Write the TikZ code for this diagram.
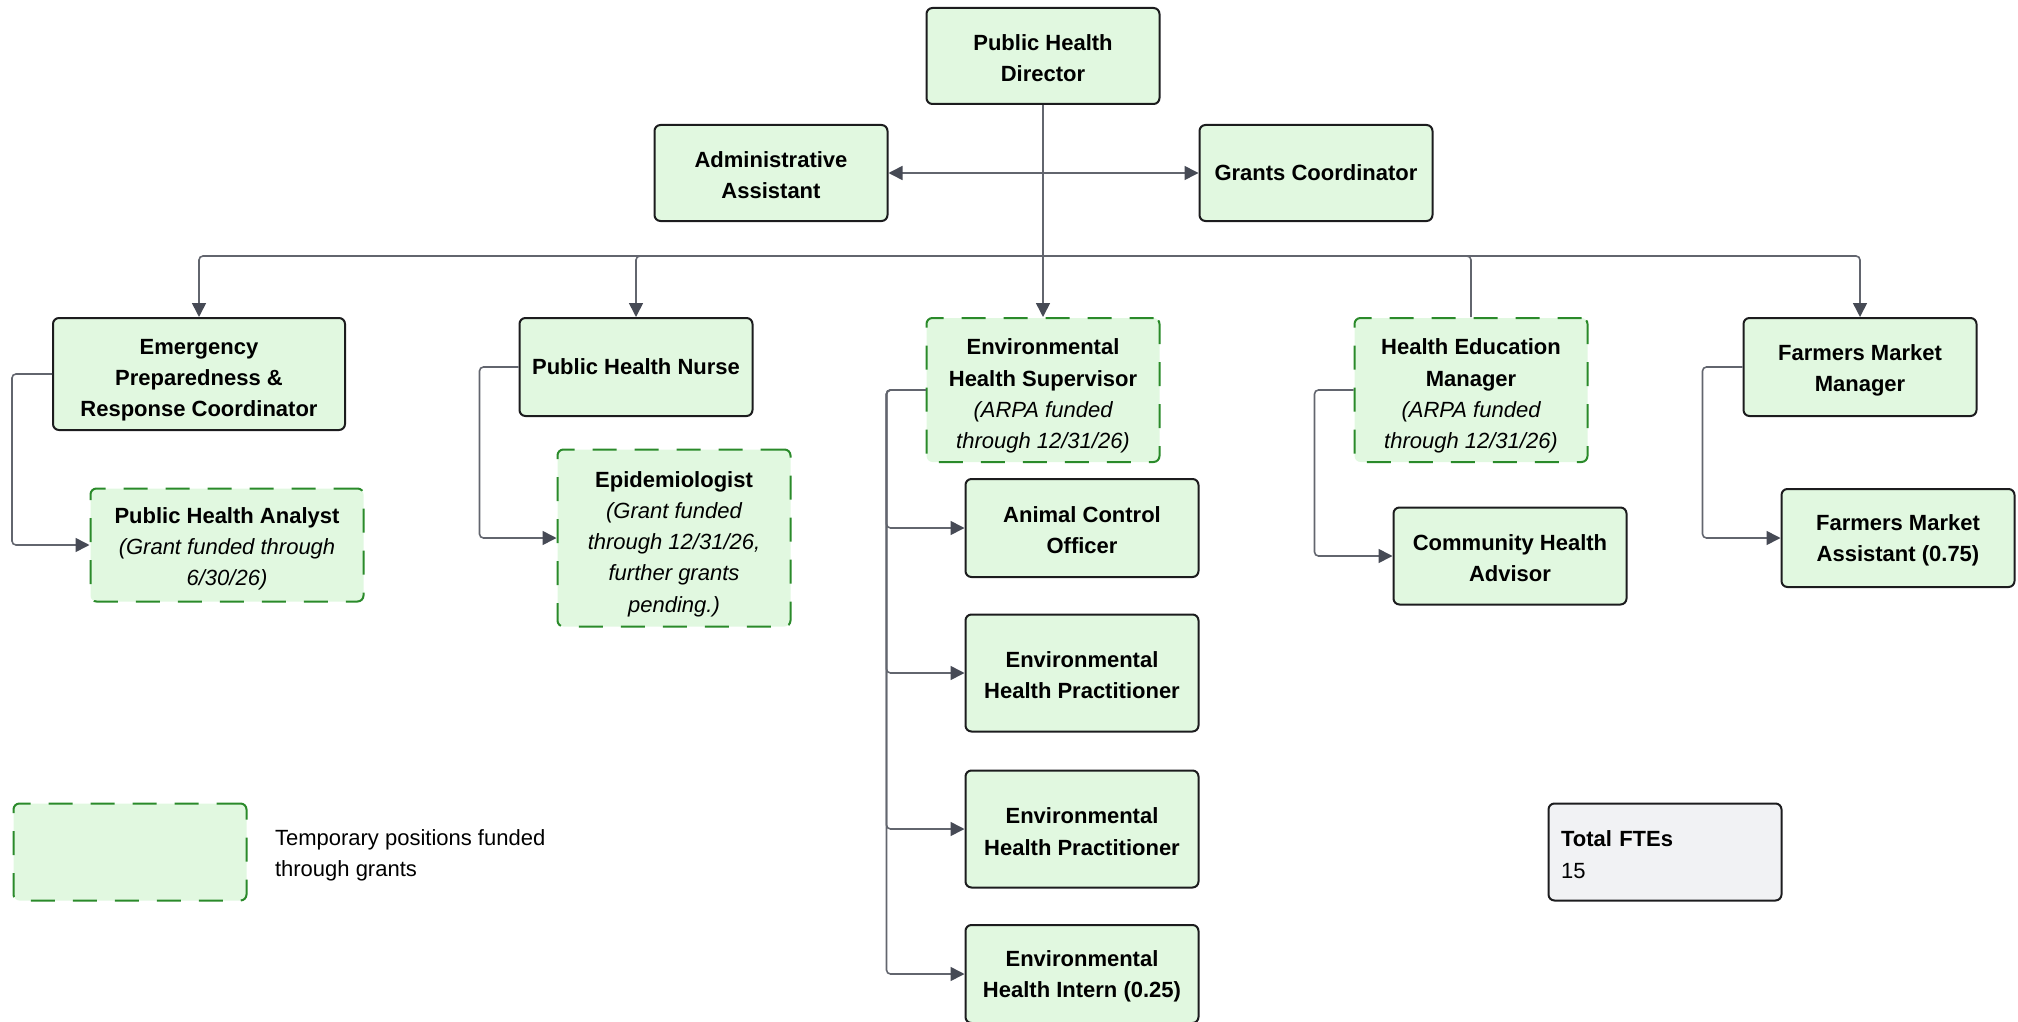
\documentclass[tikz,border=0pt]{standalone}
\usepackage{fontspec}
\setmainfont{Liberation Sans}
\usetikzlibrary{arrows.meta}
\definecolor{boxfill}{RGB}{225,248,224}
\definecolor{boxline}{RGB}{28,28,30}
\definecolor{templine}{RGB}{42,138,42}
\definecolor{linkgray}{RGB}{98,101,110}
\definecolor{tipgray}{RGB}{70,74,85}
\definecolor{totalfill}{RGB}{241,242,244}
\newcommand{\fund}[1]{{\mdseries\itshape #1}}
\newcommand{\topgap}[1]{\rule{0pt}{#1}}
\begin{document}
\begin{tikzpicture}[x=0.5pt,y=-0.5pt,
  role/.style={draw=boxline,fill=boxfill,line width=1pt,rounded corners=3pt,align=center,
    font=\fontsize{11}{15.6}\selectfont\bfseries,inner sep=0pt,minimum width=116.5pt,minimum height=48pt},
  temprole/.style={role,draw=templine,dash pattern=on 12pt off 9pt},
  link/.style={draw=linkgray,line width=0.8pt,rounded corners=2pt},
  arrowlink/.style={link,-{Triangle[length=7pt,width=7pt,color=tipgray,fill=tipgray]}}]
\useasboundingbox (0,0) rectangle (2018,1022);
\node[role] (dir) at (1043,56) {\topgap{10pt}Public Health\\Director};
\node[role] (adm) at (771,173) {\topgap{10.5pt}Administrative\\Assistant};
\node[role] (grc) at (1316,173) {Grants Coordinator};
\node[role,minimum width=146pt,minimum height=56pt] (eprc) at (199,374) {\topgap{14pt}Emergency\\Preparedness \&\\Response Coordinator};
\node[role,minimum height=49pt] (phn) at (636,367) {Public Health Nurse};
\node[temprole,minimum height=72pt] (ehs) at (1043,390) {\topgap{14pt}Environmental\\Health Supervisor\\\fund{(ARPA funded}\\\fund{through 12/31/26)}};
\node[temprole,minimum height=72pt] (hem) at (1471,390) {\topgap{14pt}Health Education\\Manager\\\fund{(ARPA funded}\\\fund{through 12/31/26)}};
\node[role,minimum height=49pt] (fmm) at (1860,367) {\topgap{11pt}Farmers Market\\Manager};
\node[temprole,minimum width=136.5pt,minimum height=56.5pt] (pha) at (227,545) {\topgap{12pt}Public Health Analyst\\\fund{(Grant funded through}\\\fund{6/30/26)}};
\node[temprole,minimum height=88.5pt] (epi) at (674,538) {\topgap{14pt}Epidemiologist\\\fund{(Grant funded}\\\fund{through 12/31/26,}\\\fund{further grants}\\\fund{pending.)}};
\node[role,minimum height=49pt] (aco) at (1082,528) {\topgap{10.5pt}Animal Control\\Officer};
\node[role,minimum height=58.5pt] (ehp) at (1082,673) {\topgap{10.5pt}Environmental\\Health Practitioner};
\node[role,minimum height=58.5pt] (ehq) at (1082,829) {\topgap{10.5pt}Environmental\\Health Practitioner};
\node[role,minimum height=49pt] (ehi) at (1082,974) {\topgap{10.5pt}Environmental\\Health Intern (0.25)};
\node[role,minimum height=48.5pt] (cha) at (1510,556) {\topgap{10.5pt}Community Health\\Advisor};
\node[role,minimum height=49pt] (fma) at (1898,538) {\topgap{10.5pt}Farmers Market\\Assistant (0.75)};
\node[temprole,minimum height=48.5pt] (key) at (130,852) {};
\node[anchor=west,align=left,font=\fontsize{11}{15.6}\selectfont] (keytext) at (268,853) {\topgap{10.5pt}Temporary positions funded\\through grants};
\node[role,fill=totalfill,minimum height=48.5pt,text width=104pt,align=left] (fte) at (1665,852) {\topgap{10.5pt}Total FTEs\\\mdseries 15};
\coordinate (hub) at (dir.south |- adm.east);
\coordinate (bus) at (1043,256);
\draw[link] (dir.south) -- (bus);
\draw[arrowlink] (hub) -- (adm.east);
\draw[arrowlink] (hub) -- (grc.west);
\draw[arrowlink] (bus) -| (eprc.north);
\draw[arrowlink] (bus) -| (phn.north);
\draw[arrowlink] (bus) -- (ehs.north);
\draw[link] (bus) -| (hem.north);
\draw[arrowlink] (bus) -| (fmm.north);
\draw[arrowlink] (eprc.west) -- ++(-40,0) |- (pha.west);
\draw[arrowlink] (phn.west) -- ++(-39,0) |- (epi.west);
\draw[arrowlink] (ehs.west) -- ++(-39,0) |- (aco.west);
\draw[arrowlink] (ehs.west) -- ++(-39,0) |- (ehp.west);
\draw[arrowlink] (ehs.west) -- ++(-39,0) |- (ehq.west);
\draw[arrowlink] (ehs.west) -- ++(-39,0) |- (ehi.west);
\draw[arrowlink] (hem.west) -- ++(-39,0) |- (cha.west);
\draw[arrowlink] (fmm.west) -- ++(-40,0) |- (fma.west);
\end{tikzpicture}
\end{document}
